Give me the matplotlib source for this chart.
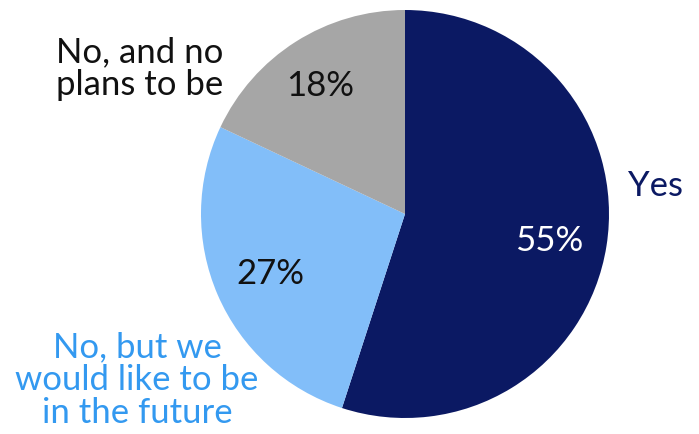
import matplotlib

matplotlib.use("Agg")
import matplotlib.pyplot as plt

plt.rcParams["font.family"] = ["Lato", "DejaVu Sans"]

labels = ["Yes", "No, but we\nwould like to be\nin the future", "No, and no\nplans to be"]
shares = [55, 27, 18]
colors = ["#0b1963", "#82bef9", "#a6a6a6"]
pct_colors = ["white", "#111111", "#111111"]
label_colors = ["#0b1963", "#3399f0", "#111111"]

W, H = 699, 434
fig = plt.figure(figsize=(W / 100, H / 100), dpi=100)
ax = fig.add_axes([0, 0, 1, 1])

cx, cy, r = 405, H - 214, 204
ax.pie(
    shares,
    colors=colors,
    startangle=90,
    counterclock=False,
    center=(cx, cy),
    radius=r,
    frame=True,
)
ax.set_xlim(0, W)
ax.set_ylim(0, H)
ax.set_aspect("equal")
ax.axis("off")

pct_pos = [(549, H - 241), (270, H - 274), (320, H - 86)]
for (x, y), v, c in zip(pct_pos, shares, pct_colors):
    ax.text(x, y, f"{v}%", ha="center", va="center", fontsize=25, color=c)

label_pos = [(656, H - 186), (137, H - 380), (140, H - 69)]
for (x, y), lab, c in zip(label_pos, labels, label_colors):
    ax.text(x, y, lab, ha="center", va="center", fontsize=25, color=c, linespacing=1.02)

fig.savefig("out.png", dpi=100)
